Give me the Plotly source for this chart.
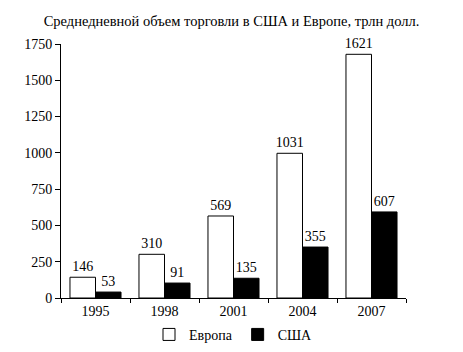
import plotly.graph_objects as go

years = ["1995", "1998", "2001", "2004", "2007"]
# bar heights as drawn in the picture
europe_values = [143, 301, 565, 997, 1679]
usa_values = [41, 103, 136, 351, 593]
# printed value labels
europe_labels = ["146", "310", "569", "1031", "1621"]
usa_labels = ["53", "91", "135", "355", "607"]
y_ticks = [0, 250, 500, 750, 1000, 1250, 1500, 1750]

FONT = "Liberation Serif"

fig = go.Figure()
fig.add_trace(go.Bar(
    name="Европа", x=years, y=europe_values, text=europe_labels,
    textposition="outside", cliponaxis=False, constraintext="none",
    marker=dict(color="white", line=dict(color="black", width=1)),
    textfont=dict(family=FONT, size=14, color="black"),
))
fig.add_trace(go.Bar(
    name="США", x=years, y=usa_values, text=usa_labels,
    textposition="outside", cliponaxis=False, constraintext="none",
    marker=dict(color="black", line=dict(color="black", width=1)),
    textfont=dict(family=FONT, size=14, color="black"),
))

fig.update_layout(
    width=463, height=352,
    margin=dict(l=61, r=57, t=44, b=54, autoexpand=False),
    paper_bgcolor="white", plot_bgcolor="white",
    font=dict(family=FONT, size=14, color="black"),
    barmode="group", bargap=0.26, bargroupgap=0,
    title=dict(text="Среднедневной объем торговли в США и Европе, трлн долл.",
               x=0.5, xref="container", xanchor="center",
               y=1 - 21 / 352, yref="container", yanchor="middle",
               font=dict(family=FONT, size=14.5, color="black")),
    legend=dict(orientation="h", x=0.5, xanchor="center", y=-0.145, yanchor="middle",
                font=dict(family=FONT, size=14, color="black"),
                bgcolor="rgba(0,0,0,0)"),
    showlegend=True,
)
fig.update_xaxes(
    type="category", showline=True, linecolor="black", linewidth=1,
    ticks="outside", tickson="boundaries", ticklen=4, tickcolor="black", tickwidth=1,
    showgrid=False, zeroline=False, automargin=False,
    tickfont=dict(family=FONT, size=14, color="black"),
)
fig.update_yaxes(
    range=[0, 1750], tickvals=y_ticks, ticktext=[str(v) for v in y_ticks],
    showline=True, linecolor="black", linewidth=1,
    ticks="outside", ticklen=5, tickcolor="black", tickwidth=1,
    showgrid=False, zeroline=False, automargin=False,
    tickfont=dict(family=FONT, size=14, color="black"),
)

fig.write_html("out.html")
